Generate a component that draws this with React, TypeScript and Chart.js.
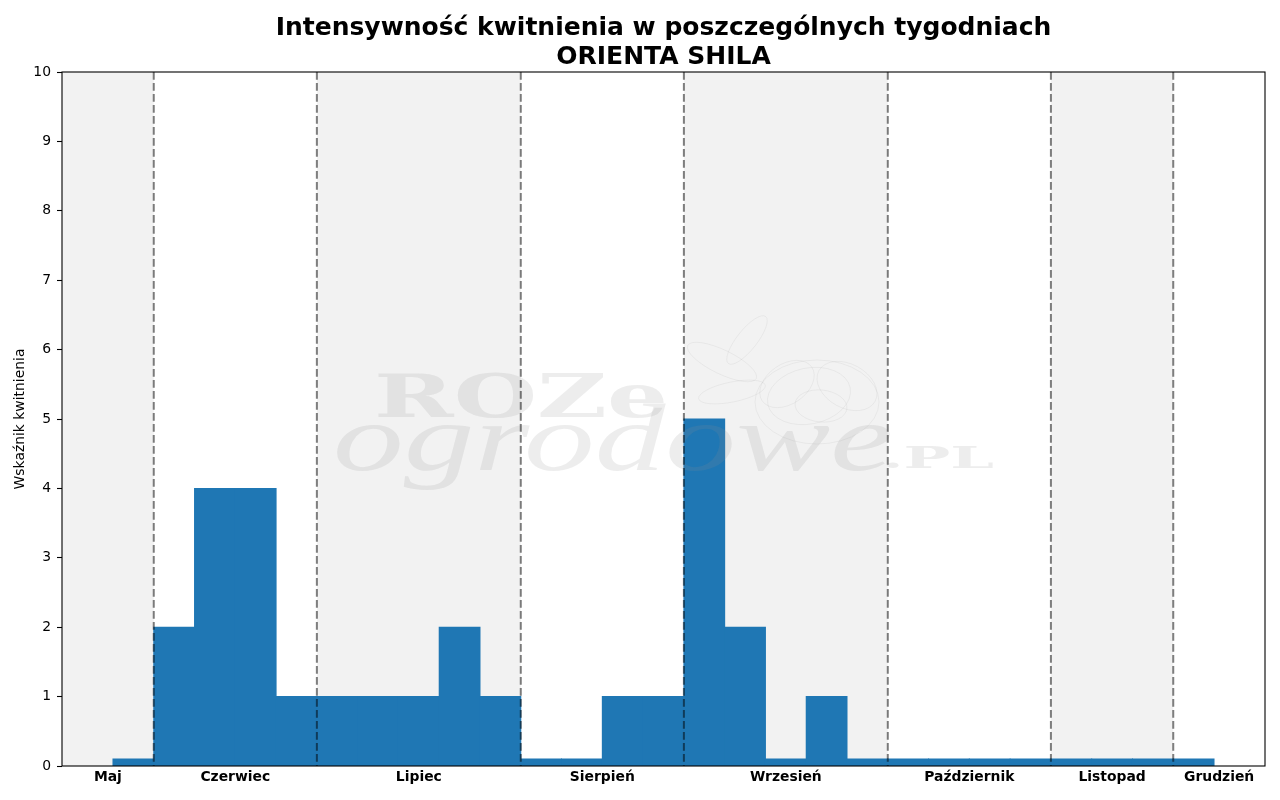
import React, { useEffect, useRef } from 'react'
import { Chart, registerables } from 'chart.js'

Chart.register(...registerables)

// week numbers and bloom index per week
const weeks = [21, 22, 23, 24, 25, 26, 27, 28, 29, 30, 31, 32, 33, 34, 35, 36, 37, 38, 39, 40, 41, 42, 43, 44, 45, 46, 47]
const bloom = [0.1, 2, 4, 4, 1, 1, 1, 1, 2, 1, 0.1, 0.1, 1, 1, 5, 2, 0.1, 1, 0.1, 0.1, 0.1, 0.1, 0.1, 0.1, 0.1, 0.1, 0.1]

const monthNames = ['Maj', 'Czerwiec', 'Lipiec', 'Sierpień', 'Wrzesień', 'Październik', 'Listopad', 'Grudzień']
// first week of each month after Maj
const monthFirstWeek = [22, 26, 31, 35, 40, 44, 47]
const weekRange = [19.25, 48.75]
const yMax = 10

const titleLines = ['Intensywność kwitnienia w poszczególnych tygodniach', 'ORIENTA SHILA']
const yTitle = 'Wskaźnik kwitnienia'

const colors = {
	bar: '#1f77b4',
	band: '#f2f2f2',
	divider: 'rgba(0,0,0,0.5)',
	watermark: 'rgba(140,140,140,0.16)',
	watermarkLine: 'rgba(140,140,140,0.1)',
}

function monthEdges(): number[] {
	return [weekRange[0], ...monthFirstWeek.map((w) => w - 0.5), weekRange[1]]
}

function drawFit(ctx: CanvasRenderingContext2D, text: string, x: number, y: number, width: number) {
	const w = ctx.measureText(text).width
	ctx.save()
	ctx.translate(x, y)
	ctx.scale(width / w, 1)
	ctx.fillText(text, 0, 0)
	ctx.restore()
}

// rough outline of the rose in the site logo
function drawRose(ctx: CanvasRenderingContext2D, cx: number, cy: number) {
	ctx.strokeStyle = colors.watermarkLine
	ctx.lineWidth = 1
	const petals: [number, number, number, number, number][] = [
		[0, 0, 62, 42, 0],
		[-8, -6, 42, 28, -0.2],
		[4, 4, 26, 16, 0.1],
		[-30, -18, 30, 20, -0.6],
		[30, -16, 32, 22, 0.5],
		[-95, -40, 38, 12, 0.45],
		[-70, -62, 30, 10, -0.9],
		[-85, -10, 34, 10, -0.2],
	]
	petals.forEach(([dx, dy, rx, ry, rot]) => {
		ctx.beginPath()
		ctx.ellipse(cx + dx, cy + dy, rx, ry, rot, 0, Math.PI * 2)
		ctx.stroke()
	})
}

const monthBands = {
	id: 'monthBands',
	beforeDatasetsDraw(chart: Chart) {
		const { ctx, chartArea: a } = chart
		const x = chart.scales.x
		const edges = monthEdges()
		ctx.save()
		ctx.fillStyle = colors.band
		for (let i = 0; i < monthNames.length; i += 2) {
			const l = x.getPixelForValue(edges[i])
			const r = x.getPixelForValue(edges[i + 1])
			ctx.fillRect(l, a.top, r - l, a.bottom - a.top)
		}
		ctx.restore()
	},
	afterDatasetsDraw(chart: Chart) {
		const { ctx, chartArea: a } = chart
		const x = chart.scales.x
		ctx.save()

		// faint site watermark
		ctx.beginPath()
		ctx.rect(a.left, a.top, a.right - a.left, a.bottom - a.top)
		ctx.clip()
		drawRose(ctx, a.left + 755, a.top + 330)
		ctx.fillStyle = colors.watermark
		ctx.textAlign = 'left'
		ctx.textBaseline = 'alphabetic'
		ctx.font = 'bold 60px "DejaVu Serif"'
		drawFit(ctx, 'ROZe', a.left + 312, a.top + 345, 294)
		ctx.font = 'italic 96px "Liberation Serif"'
		drawFit(ctx, 'ogrodowe', a.left + 271, a.top + 398, 560)
		ctx.font = 'bold 30px "DejaVu Serif"'
		drawFit(ctx, '.PL', a.left + 820, a.top + 396, 112)

		ctx.strokeStyle = colors.divider
		ctx.lineWidth = 2
		ctx.setLineDash([7.7, 3.3])
		monthFirstWeek.forEach((w) => {
			const px = x.getPixelForValue(w - 0.5)
			ctx.beginPath()
			ctx.moveTo(px, a.top)
			ctx.lineTo(px, a.bottom)
			ctx.stroke()
		})
		ctx.restore()

		ctx.save()
		ctx.strokeStyle = '#000'
		ctx.lineWidth = 1.1
		ctx.strokeRect(a.left, a.top, a.right - a.left, a.bottom - a.top)
		ctx.restore()
	},
}

function BloomChart() {
	const refContainer = useRef<HTMLCanvasElement>(null)

	useEffect(() => {
		let chart: Chart | undefined
		const context = refContainer.current?.getContext('2d')
		if (context) {
			Chart.defaults.font.family = '"DejaVu Sans", sans-serif'
			Chart.defaults.color = '#000'
			const edges = monthEdges()
			const centers = monthNames.map((_, i) => (edges[i] + edges[i + 1]) / 2)

			chart = new Chart(context, {
				type: 'bar',
				data: {
					datasets: [
						{
							data: weeks.map((w, i) => ({ x: w, y: bloom[i] })),
							backgroundColor: colors.bar,
							borderWidth: 0,
							inflateAmount: 0.5,
							barPercentage: 1,
							categoryPercentage: 1,
						},
					],
				},
				options: {
					animation: false,
					responsive: false,
					devicePixelRatio: 1,
					events: [],
					layout: { padding: { left: 0, right: 15, top: 0, bottom: 0 } },
					plugins: {
						legend: { display: false },
						tooltip: { enabled: false },
						title: {
							display: true,
							text: titleLines,
							fullSize: false,
							color: '#000',
							font: { size: 25, weight: 'bold', lineHeight: 1.16 },
							padding: { top: 13.7, bottom: 0.3 },
						},
					},
					scales: {
						x: {
							type: 'linear',
							min: weekRange[0],
							max: weekRange[1],
							offset: false,
							bounds: 'data',
							grid: { display: false, drawTicks: false },
							border: { display: false },
							afterBuildTicks: (scale: any) => {
								scale.ticks = centers.map((v) => ({ value: v }))
							},
							afterFit: (scale: any) => {
								scale.height = 34
							},
							ticks: {
								autoSkip: false,
								maxRotation: 0,
								padding: 3,
								color: '#000',
								font: { size: 13.9, weight: 'bold' },
								callback: (_v: any, i: number) => monthNames[i],
							},
						},
						y: {
							min: 0,
							max: yMax,
							grid: {
								display: true,
								drawOnChartArea: false,
								drawTicks: true,
								tickLength: 5,
								tickColor: '#000',
								tickWidth: 1.1,
							},
							border: { display: false },
							afterFit: (scale: any) => {
								scale.width = 62
							},
							ticks: {
								stepSize: 1,
								padding: 6,
								color: '#000',
								font: { size: 13.9 },
							},
							title: {
								display: true,
								text: yTitle,
								color: '#000',
								font: { size: 13.9 },
								padding: { top: 12.5, bottom: 0 },
							},
						},
					},
				},
				plugins: [monthBands],
			} as any)
		}
		return () => chart?.destroy()
	}, [])

	return <canvas aria-label="bloom-chart" ref={refContainer} width={1280} height={800} />
}

export default function App() {
	return (
		<div style={{ position: 'absolute', left: 0, top: 0, width: 1280, height: 800, background: '#fff' }}>
			<BloomChart />
		</div>
	)
}
